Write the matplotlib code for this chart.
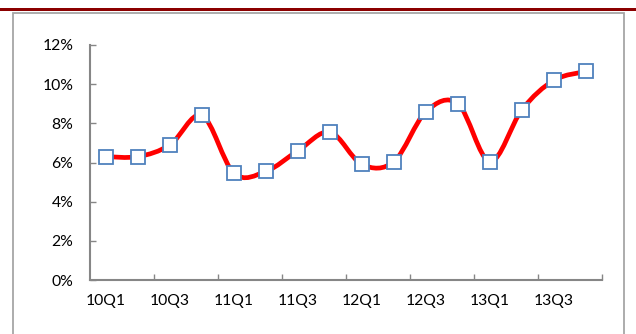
import matplotlib
matplotlib.use("Agg")
import matplotlib.pyplot as plt
from matplotlib.path import Path
from matplotlib.patches import PathPatch, Rectangle
from matplotlib.ticker import FixedLocator, PercentFormatter
import numpy as np

# Quarterly growth rate, 2010Q1 - 2013Q4 (%)
quarters = ["10Q1", "10Q2", "10Q3", "10Q4",
            "11Q1", "11Q2", "11Q3", "11Q4",
            "12Q1", "12Q2", "12Q3", "12Q4",
            "13Q1", "13Q2", "13Q3", "13Q4"]
growth = [6.3, 6.3, 6.9, 8.4,
          5.45, 5.55, 6.6, 7.55,
          5.9, 6.05, 8.6, 9.0,
          6.05, 8.7, 10.2, 10.65]

W, H, DPI = 636, 334, 100
fig = plt.figure(figsize=(W / DPI, H / DPI), dpi=DPI)
plt.rcParams['font.family'] = ['Lato', 'DejaVu Sans']

# header band and frame
fig.patches.append(Rectangle((0, 1 - 11 / H), 1, 3.5 / H, transform=fig.transFigure,
                             facecolor="#8B0000", edgecolor="none", zorder=0))
fig.patches.append(Rectangle((13 / W, -0.05), (624 - 13) / W, 1.05 - 12.5 / H,
                             transform=fig.transFigure, facecolor="none",
                             edgecolor="#A6A6A6", linewidth=1.3, zorder=0))

ax = fig.add_axes([90 / W, (H - 280) / H, (602 - 90) / W, (280 - 45) / H])
n = len(quarters)
x = np.arange(n)
y = np.array(growth)

# smoothed line through the points (Catmull-Rom as cubic Bezier segments)
pts = np.column_stack([x, y]).astype(float)
ext = np.vstack([pts[0], pts, pts[-1]])
verts = [tuple(pts[0])]
codes = [Path.MOVETO]
for i in range(n - 1):
    p0, p1, p2, p3 = ext[i], ext[i + 1], ext[i + 2], ext[i + 3]
    c1 = p1 + (p2 - p0) / 6.0
    c2 = p2 - (p3 - p1) / 6.0
    verts += [tuple(c1), tuple(c2), tuple(p2)]
    codes += [Path.CURVE4] * 3
ax.add_patch(PathPatch(Path(verts, codes), facecolor="none", edgecolor="#FF0000",
                       linewidth=3.4, capstyle="round", joinstyle="round", zorder=2))

ax.plot(x, y, linestyle="none", marker="s", markersize=10.5,
        markerfacecolor="white", markeredgecolor="#4F81BD", markeredgewidth=1.3, zorder=3)

ax.set_xlim(-0.5, n - 0.5)
ax.set_ylim(0, 12)
ax.yaxis.set_major_locator(FixedLocator(np.arange(0, 13, 2)))
ax.yaxis.set_major_formatter(PercentFormatter(decimals=0))

# ticks between category pairs, labels on every other quarter
ax.set_xticks(np.arange(-0.5, n, 2)[1:])
ax.set_xticklabels([])
ax.set_xticks(x[::2], minor=True)
ax.set_xticklabels(quarters[::2], minor=True)
ax.tick_params(axis="x", which="major", direction="in", length=4.5, width=1, color="#868686")
ax.tick_params(axis="x", which="minor", length=0, pad=10, labelsize=11.3, labelcolor="black")
ax.tick_params(axis="y", direction="in", length=4.5, width=1, color="#868686",
               pad=12, labelsize=11.3, labelcolor="black")

for s in ["top", "right"]:
    ax.spines[s].set_visible(False)
for s in ["left", "bottom"]:
    ax.spines[s].set_color("#868686")
    ax.spines[s].set_linewidth(1.5)

fig.savefig("out.png", dpi=DPI)
